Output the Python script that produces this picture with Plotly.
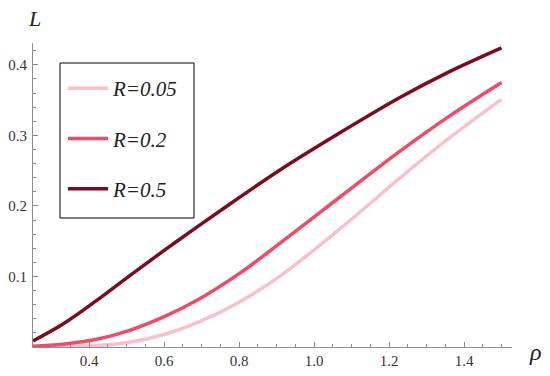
import plotly.graph_objects as go

rho = [0.25, 0.33, 0.42, 0.51, 0.60, 0.69, 0.80, 0.91, 1.07, 1.23, 1.36, 1.50]
L_005 = [0.0, 0.0005, 0.002, 0.007, 0.0178, 0.0349, 0.0635, 0.1009, 0.168, 0.240, 0.296, 0.351]
L_02 = [0.001, 0.004, 0.011, 0.024, 0.043, 0.067, 0.104, 0.1475, 0.213, 0.278, 0.327, 0.375]
L_05 = [0.0085, 0.0325, 0.066, 0.102, 0.137, 0.171, 0.2117, 0.2513, 0.304, 0.354, 0.390, 0.424]
labels = ["R=0.05", "R=0.2", "R=0.5"]
colors = ["#F8C1CA", "#EF4B66", "#7B0B20"]

SERIF = "Liberation Serif"

fig = go.Figure()
for i, (ys, name, c) in enumerate(zip([L_005, L_02, L_05], labels, colors)):
    fig.add_trace(go.Scatter(
        x=rho, y=ys, mode="lines", name=name,
        line=dict(color=c, width=3.5, shape="spline", smoothing=1.0),
        legendgroup=f"g{i}",
    ))

axis_common = dict(
    showgrid=False, zeroline=False, showline=True, linecolor="#8c8c8c", linewidth=1,
    ticks="inside", ticklen=5, tickwidth=1, tickcolor="#8c8c8c",
    tickfont=dict(family=SERIF, size=15, color="#333333"),
    automargin=False,
)

fig.update_layout(
    width=550, height=376,
    margin=dict(l=33, r=38, t=43, b=29),
    font=dict(family=SERIF, size=15, color="#222222"),
    paper_bgcolor="white", plot_bgcolor="white",
    xaxis=dict(range=[0.25, 1.528], tick0=0, dtick=0.2, tickformat=".1f",
               minor=dict(ticks="inside", ticklen=3, dtick=0.05, tick0=0, tickcolor="#8c8c8c"),
               **axis_common),
    yaxis=dict(range=[0, 0.431], tickvals=[0.1, 0.2, 0.3, 0.4], ticktext=["0.1", "0.2", "0.3", "0.4"],
               minor=dict(ticks="inside", ticklen=3, dtick=0.02, tick0=0, tickcolor="#8c8c8c"),
               ticklabelstandoff=2,
               **axis_common),
    legend=dict(
        x=0.0626, y=0.9178, xanchor="left", yanchor="top",
        bgcolor="rgba(0,0,0,0)", borderwidth=0,
        font=dict(family=SERIF, size=21, color="#222222", style="italic"),
        tracegroupgap=20, itemwidth=40,
    ),
    showlegend=True,
)

# legend frame
fig.add_shape(type="rect", xref="paper", yref="paper",
              x0=(60 - 33) / 479, x1=(194 - 33) / 479, y0=(347 - 218) / 304, y1=(347 - 63) / 304,
              line=dict(color="black", width=1), fillcolor="white", layer="below")

fig.add_annotation(text="L", xref="paper", yref="paper", x=-0.015, y=1.082, xanchor="left", yanchor="middle",
                   showarrow=False, font=dict(family=SERIF, size=22, color="#222222", style="italic"))
fig.add_annotation(text="ρ", xref="paper", yref="paper", x=1.031, y=-0.015, xanchor="left", yanchor="middle",
                   showarrow=False, font=dict(family=SERIF, size=24, color="#222222", style="italic"))

fig.write_html("out.html", config={"displayModeBar": False},
               post_script="document.body.style.margin='0';document.body.style.padding='0';")
